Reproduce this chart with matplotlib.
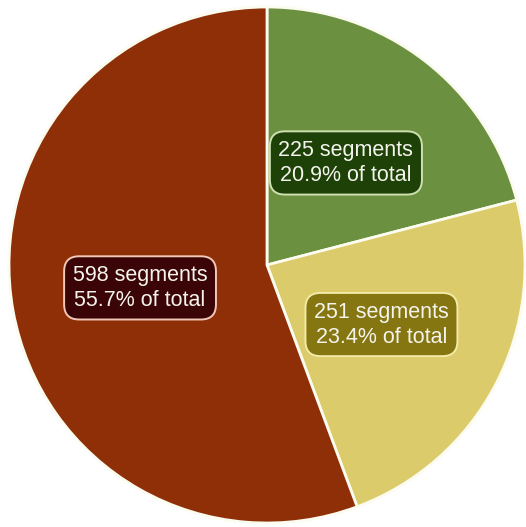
import numpy as np
import matplotlib.pyplot as plt

plt.rcParams['font.family'] = ['Liberation Sans', 'DejaVu Sans']

segments = [225, 251, 598]
pct_labels = ['20.9%', '23.4%', '55.7%']
colors = ['#6b9140', '#dccb6a', '#8e2f07']
box_colors = ['#1e4108', '#857611', '#3b0406']
box_edges = ['#cfe0b0', '#f3eaa8', '#f0c8b8']

fig = plt.figure(figsize=(5.26, 5.27), dpi=100)
ax = fig.add_axes([0, 0, 1, 1])

wedges, _ = ax.pie(segments, colors=colors, startangle=90, counterclock=False,
                   wedgeprops=dict(edgecolor='#fbfbef', linewidth=2))

# radius in pixels, centre at (267, 265)
r = 258
ax.set_xlim(-267 / r, (526 - 267) / r)
ax.set_ylim(-(527 - 265) / r, 265 / r)
ax.set_aspect('equal')
ax.axis('off')

for w, n, p, bc, ec in zip(wedges, segments, pct_labels, box_colors, box_edges):
    mid = np.deg2rad((w.theta1 + w.theta2) / 2)
    x, y = 0.5 * np.cos(mid), 0.5 * np.sin(mid)
    ax.text(x, y, f'{n} segments\n{p} of total', ha='center', va='center',
            fontsize=15.5, color='#f4f4ec', linespacing=1.25,
            bbox=dict(boxstyle='round,pad=0.4,rounding_size=0.7', fc=bc, ec=ec, lw=1.4))

fig.savefig('out.png', dpi=100)
